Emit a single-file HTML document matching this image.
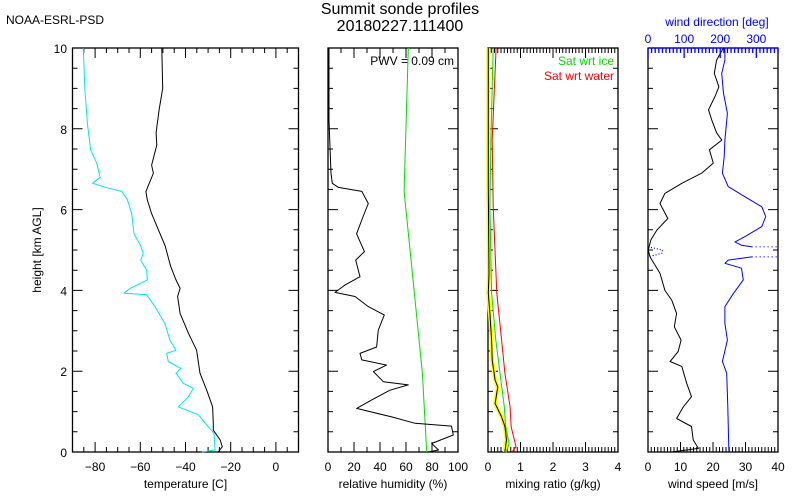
<!DOCTYPE html>
<html><head><meta charset="utf-8"><style>
body{margin:0;background:#fff}
svg{display:block;font-family:"Liberation Sans",sans-serif}
</style></head><body>
<svg id="c" width="800" height="500" viewBox="0 0 800 500">
<text x="6" y="24" font-size="12">NOAA-ESRL-PSD</text>
<text x="400" y="14" font-size="16" text-anchor="middle">Summit sonde profiles</text>
<text x="400" y="31" font-size="16" text-anchor="middle">20180227.111400</text>
<text x="41" y="250" font-size="12" text-anchor="middle" transform="rotate(-90 41 250)">height [km AGL]</text>
</svg>
<script>
// ---- data ----
const tempH=[10,9,8.5,7.9,7.6,7.1,6.9,6.6,6.45,6.24,5.9,5.5,5.1,4.6,4.26,4.05,3.85,3.43,2.94,2.52,1.95,1.53,1.12,0.71,0.54,0.3,0.13,0];
const tempT=[-50.5,-50.1,-51.6,-53,-52.7,-55,-54.2,-56.4,-57.5,-56.9,-55,-52,-49,-46.6,-44.2,-42.4,-43.5,-42.4,-38.7,-35.1,-33.6,-30.6,-28,-27.7,-27.7,-24.7,-23.7,-25.5];
const dewH=[10,8.96,8.13,7.48,7.15,6.8,6.65,6.53,6.45,6.24,5.9,5.4,5.1,4.92,4.75,4.5,4.26,4.05,3.93,3.89,3.6,3.18,2.77,2.52,2.44,2.24,2.07,1.95,1.7,1.58,1.37,1.12,0.92,0.67,0.46,0.05,0];
const dewT=[-85.2,-84.5,-83.4,-82,-79.3,-77.8,-81.1,-74.1,-68.2,-65.7,-63.8,-62.8,-59.8,-58.7,-59.8,-57.2,-56.9,-64.5,-67.2,-57.2,-53.5,-49.1,-46.9,-44.2,-48.3,-47.6,-42.1,-44.2,-41,-36.5,-38.7,-43.2,-34.3,-30.6,-27.4,-26.9,-32.8];
const rhH=[10,8.2,6.9,6.65,6.55,6.45,6.15,5.83,5.4,4.96,4.75,4.34,4.13,3.95,3.85,3.6,3.39,3.02,2.6,2.44,2.28,2.15,1.99,1.74,1.66,1.53,1.29,1.08,0.87,0.71,0.64,0.42,0.21,0.05,0];
const rhV=[0.8,0.8,2.3,3.3,8,26,31,27,22,28,21.3,24.6,13,5.4,20.8,31,43.3,38.7,37.4,24.6,26,45.1,34.9,42.6,61.8,47.7,33.6,22,49,67,95,96.4,79.8,85,77];
const rhIceH=[10,6.45,3.95,1.95,0];
const rhIceV=[61.8,58.5,66.4,72.6,75.9];
const mrH=[10,6.6,4.4,3.93,3.43,2.77,2.28,1.78,1.61,1.2,0.87,0.63,0.3,0];
const mrV=[0.01,0.01,0.03,0.01,0.06,0.11,0.13,0.22,0.30,0.22,0.42,0.52,0.57,0.52];
const satIceH=[10,7.72,6.07,3.93,2.77,1.95,1.12,0.63,0.21,0];
const satIceV=[0.16,0.09,0.06,0.11,0.24,0.37,0.5,0.54,0.65,0.57];
const satWatH=[10,7.72,6.07,3.93,2.77,1.95,1.12,0.63,0.13,0];
const satWatV=[0.25,0.13,0.16,0.27,0.42,0.52,0.68,0.71,0.86,0.74];
const wsH=[10,9.7,9.37,9.04,8.8,8.47,8.22,7.9,7.72,7.48,7.15,6.9,6.65,6.4,6.15,5.78,5.49,5.25,5.0,4.83,4.42,4.0,3.76,3.43,3.1,2.77,2.49,2.24,2.12,1.7,1.37,1.12,0.83,0.63,0.3,0.09,0];
const wsV=[23.2,21.1,20.4,21.8,20.6,18.6,19.6,21.1,22.7,18.9,20.1,16.5,10.4,5.2,3.7,6.1,2.7,0.9,0.1,0.6,3.7,5.2,7.3,8.8,8.1,10.2,9.3,6.8,10.4,11.9,13.4,10.9,8.8,13.4,13.9,15.5,7.3];
const wdH=[10,9.7,9.37,8.88,8.38,7.72,7.31,6.9,6.57,6.32,6.07,5.83,5.58,5.33,5.2,5.12,5.08];
const wdV=[213,213,204,209,220,213,211,206,222,268,315,326,315,268,241,259,287];
const wd2H=[4.83,4.75,4.67,4.55,4.26,3.93,3.6,3.18,2.77,2.24,1.95,1.12,0];
const wd2V=[287,222,213,259,264,237,213,213,220,206,218,221,224];
const yTicks=[0,2,4,6,8,10];
// ---- layout ----
const Y0=452,Y1=48;
const y=h=>Y0-(h/10)*(Y0-Y1);
const panels=[
 {x0:72.5,x1:298.5,min:-90,max:10,minor:5,major:20,label:'temperature [C]',name:'temperature'},
 {x0:328,x1:458,min:0,max:100,minor:10,major:20,label:'relative humidity (%)',name:'humidity'},
 {x0:488,x1:618,min:0,max:4,minor:0.1,major:1,label:'mixing ratio (g/kg)',name:'mixing-ratio'},
 {x0:648,x1:778,min:0,max:40,minor:1,major:10,label:'wind speed [m/s]',name:'wind-speed'}];
const svg=document.getElementById('c');
const NS='http://www.w3.org/2000/svg';
function mk(t,a,parent){const e=document.createElementNS(NS,t);for(const k in a)e.setAttribute(k,a[k]);(parent||svg).appendChild(e);return e;}
function sx(p,v){return p.x0+(v-p.min)/(p.max-p.min)*(p.x1-p.x0);}
panels.forEach((p,i)=>{
 const g=mk('g',{});
 
 
 const r=mk('rect',{x:p.x0,y:Y1,width:p.x1-p.x0,height:Y0-Y1,fill:'none',stroke:'#000','stroke-width':1.3},g);
 
 
 let d='';
 const n=Math.round((p.max-p.min)/p.minor);
 for(let k=0;k<=n;k++){const v=p.min+k*p.minor;const X=sx(p,v);
  const isMaj=Math.abs((v/p.major)-Math.round(v/p.major))<1e-6;const L=isMaj?10:5;
  d+=`M${X},${Y0}v${-L}`;if(!(i==3))d+=`M${X},${Y1}v${L}`;
  if(isMaj){const t=mk('text',{x:X,y:Y0+19,'font-size':12,'text-anchor':'middle'},g);t.textContent=(v<0?'\u2212'+(-v):''+(+v.toFixed(2)));
   
   }
 }
 for(let h=0;h<=10;h+=0.5){const L=(h%2==0)?10:5;d+=`M${p.x0},${y(h)}h${L}M${p.x1},${y(h)}h${-L}`;}
 const tk=mk('path',{d:d,stroke:'#000','stroke-width':1,fill:'none'},g);
 
 
 const lt=mk('text',{x:(p.x0+p.x1)/2,y:Y0+36,'font-size':12,'text-anchor':'middle'},g);
 lt.textContent=p.label;
 
 
});
yTicks.forEach(h=>{const t=mk('text',{x:67,y:y(h)+5,'font-size':12,'text-anchor':'end'});t.textContent=h;
 
 });
function line(p,H,V,color,w,name,dash){let d='';H.forEach((h,k)=>{d+=(k?'L':'M')+sx(p,V[k]).toFixed(1)+','+y(h).toFixed(1);});
 const e=mk('path',{d:d,stroke:color,'stroke-width':w,fill:'none','stroke-linejoin':'round'});
 if(dash)e.setAttribute('stroke-dasharray',dash);
 
 return e;}
const [P1,P2,P3,P4]=panels;
line(P1,dewH,dewT,'#00e5ee',1,'dewpoint-line');
line(P1,tempH,tempT,'#000',1,'temperature-line');
line(P2,rhIceH,rhIceV,'#00dd00',1,'rh-ice-line');
line(P2,rhH,rhV,'#000',1,'rh-line');
line(P3,mrH,mrV,'#ffff00',4,'mixing-ratio-highlight');
line(P3,satWatH,satWatV,'#ff0000',1,'sat-water-line');
line(P3,satIceH,satIceV,'#00dd00',1,'sat-ice-line');
line(P3,mrH,mrV,'#000',1,'mixing-ratio-line');
const PD={x0:648,x1:778,min:0,max:360};
line(P4,wsH,wsV,'#000',1,'wind-speed-line');
line(PD,wdH,wdV,'#0000ff',1,'wind-direction-line');
line(PD,wd2H,wd2V,'#0000ff',1,'wind-direction-line-lower');
line(PD,[5.08,5.08],[287,360],'#0000ff',1.2,'wind-direction-wrap-upper','1 3');
line(PD,[4.83,4.83],[287,360],'#0000ff',1.2,'wind-direction-wrap-lower','1 3');
line(PD,[5.08,5.0,4.92,4.83],[0,40,40,0],'#0000ff',1.2,'wind-direction-wrap-left','1 2');
let dd=`M${PD.x0},${Y1}H${PD.x1}`;
for(let v=0;v<=360;v+=10){const X=sx(PD,v);dd+=`M${X},${Y1}v${v%100==0?10:5}`;}
const ta=mk('path',{d:dd,stroke:'#0000ff','stroke-width':1.3,fill:'none'});


[0,100,200,300].forEach(v=>{const t=mk('text',{x:sx(PD,v),y:Y1-5,'font-size':12,'text-anchor':'middle',fill:'#0000ff'});t.textContent=v;
 
 });
const wt=mk('text',{x:717,y:26,'font-size':12,'text-anchor':'middle',fill:'#0000ff'});wt.textContent='wind direction [deg]';


const pwv=mk('text',{x:454,y:65,'font-size':12,'text-anchor':'end'});pwv.textContent='PWV = 0.09 cm';


const l1=mk('text',{x:614,y:65,'font-size':12,'text-anchor':'end',fill:'#00dd00'});l1.textContent='Sat wrt ice';


const l2=mk('text',{x:614,y:80,'font-size':12,'text-anchor':'end',fill:'#ff0000'});l2.textContent='Sat wrt water';


</script>
</body></html>
